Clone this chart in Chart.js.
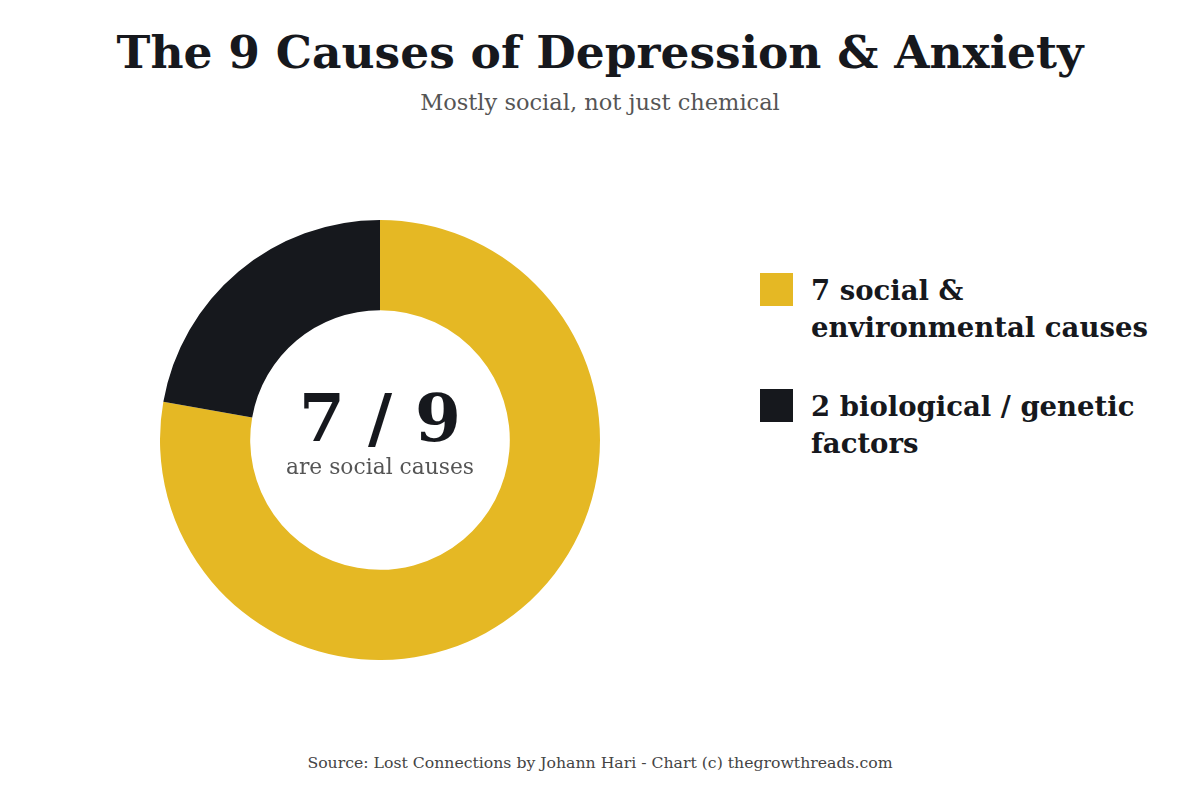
<!DOCTYPE html>
<html>
<head>
<meta charset="utf-8">
<script src="https://cdn.jsdelivr.net/npm/chart.js@4/dist/chart.umd.min.js"></script>
<style>
  html, body { margin: 0; padding: 0; background: #ffffff; }
  body { width: 1200px; height: 800px; position: relative; overflow: hidden; font-family: "DejaVu Serif", "Liberation Serif", serif; color: #16181d; }
  #title { position: absolute; left: 0; width: 1200px; top: 22px; text-align: center; font-weight: bold; font-size: 45.5px; line-height: 60px; white-space: nowrap; }
  #subtitle { position: absolute; left: 0; width: 1200px; top: 87px; text-align: center; font-size: 22.5px; line-height: 30px; color: #555; white-space: nowrap; }
  #chartBox { position: absolute; left: 160px; top: 220px; width: 440px; height: 440px; }
  #center { position: absolute; left: 160px; top: 220px; width: 440px; height: 440px; pointer-events: none; }
  #centerBig { position: absolute; left: 0; width: 440px; top: 158px; text-align: center; font-weight: bold; font-size: 66px; line-height: 80px; }
  #centerSmall { position: absolute; left: 0; width: 440px; top: 232px; text-align: center; font-size: 21.8px; line-height: 30px; color: #555; }
  #legend { position: absolute; left: 760px; top: 272px; }
  .item { position: relative; padding-left: 51px; font-weight: bold; font-size: 27.5px; line-height: 37px; width: 420px; margin-bottom: 42px; }
  .sw { position: absolute; left: 0; top: 1px; width: 33px; height: 33px; }
  #source { position: absolute; left: 0; width: 1200px; top: 752px; text-align: center; font-size: 15.7px; line-height: 22px; color: #444; white-space: nowrap; }
</style>
</head>
<body>
<div id="title"></div>
<div id="subtitle"></div>
<div id="chartBox"><canvas id="c" width="440" height="440"></canvas></div>
<div id="center"><div id="centerBig"></div><div id="centerSmall"></div></div>
<div id="legend"></div>
<div id="source"></div>
<script>
const titleText = "The 9 Causes of Depression & Anxiety";
const subtitleText = "Mostly social, not just chemical";
const sourceText = "Source: Lost Connections by Johann Hari - Chart (c) thegrowthreads.com";
const categories = ["7 social & environmental causes", "2 biological / genetic factors"];
const legendLines = [["7 social &", "environmental causes"], ["2 biological / genetic", "factors"]];
const values = [7, 2];
const colors = ["#e5b824", "#16181d"];
const centerBig = "7 / 9";
const centerSmall = "are social causes";

document.getElementById('title').textContent = titleText;
document.getElementById('subtitle').textContent = subtitleText;
document.getElementById('source').textContent = sourceText;
document.getElementById('centerBig').textContent = centerBig;
document.getElementById('centerSmall').textContent = centerSmall;

const legend = document.getElementById('legend');
categories.forEach((cat, i) => {
  const it = document.createElement('div');
  it.className = 'item';
  const sw = document.createElement('div');
  sw.className = 'sw';
  sw.style.background = colors[i];
  it.appendChild(sw);
  legendLines[i].forEach(l => {
    const d = document.createElement('div');
    d.textContent = l;
    it.appendChild(d);
  });
  legend.appendChild(it);
});

new Chart(document.getElementById('c'), {
  type: 'doughnut',
  data: {
    labels: categories,
    datasets: [{ data: values, backgroundColor: colors, borderWidth: 0, hoverOffset: 0 }]
  },
  options: {
    responsive: false,
    animation: false,
    cutout: '59%',
    rotation: 0,
    layout: { padding: 0 },
    plugins: { legend: { display: false }, tooltip: { enabled: false } }
  }
});
</script>
</body>
</html>
